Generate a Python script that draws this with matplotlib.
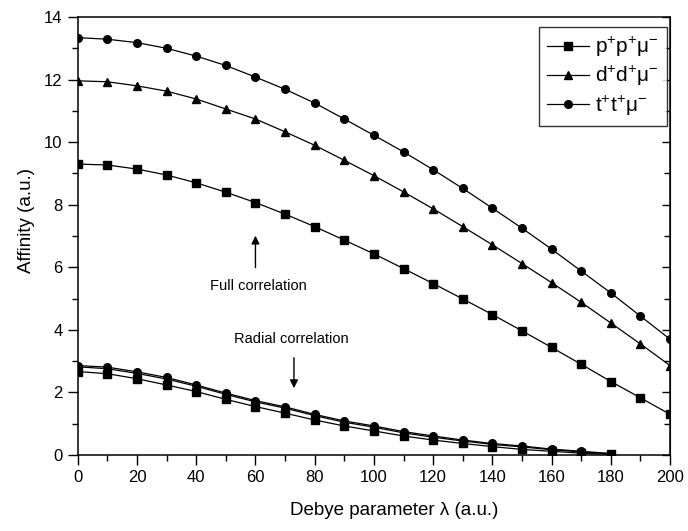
import numpy as np
import matplotlib
matplotlib.use("Agg")
from matplotlib import pyplot as plt
from matplotlib.ticker import MultipleLocator

plt.rcParams['font.family'] = ['Liberation Sans', 'DejaVu Sans']
plt.rcParams['mathtext.fontset'] = 'custom'
plt.rcParams['mathtext.rm'] = 'Liberation Sans'
plt.rcParams['mathtext.it'] = 'Liberation Sans'

# Debye parameter values
lam = np.arange(0, 201, 10)
lam_rad = np.arange(0, 181, 10)

# Full correlation
full_p = [9.30, 9.27, 9.14, 8.95, 8.70, 8.40, 8.07, 7.70, 7.30, 6.87, 6.43,
          5.96, 5.48, 4.99, 4.49, 3.97, 3.44, 2.90, 2.35, 1.83, 1.30]
full_d = [11.96, 11.93, 11.80, 11.63, 11.38, 11.06, 10.74, 10.33, 9.90, 9.42, 8.93,
          8.41, 7.87, 7.30, 6.72, 6.12, 5.51, 4.88, 4.22, 3.55, 2.86]
full_t = [13.34, 13.29, 13.18, 13.00, 12.75, 12.45, 12.08, 11.69, 11.25, 10.74, 10.22,
          9.69, 9.12, 8.52, 7.89, 7.25, 6.58, 5.88, 5.18, 4.44, 3.70]

# Radial correlation
rad_p = [2.67, 2.60, 2.44, 2.24, 2.03, 1.78, 1.55, 1.34, 1.12, 0.93, 0.77,
         0.61, 0.48, 0.37, 0.27, 0.18, 0.12, 0.06, 0.02]
rad_d = [2.82, 2.76, 2.61, 2.43, 2.20, 1.94, 1.70, 1.50, 1.26, 1.05, 0.89,
         0.71, 0.57, 0.45, 0.34, 0.26, 0.17, 0.10, 0.04]
rad_t = [2.86, 2.81, 2.66, 2.48, 2.24, 1.98, 1.74, 1.54, 1.30, 1.09, 0.93,
         0.75, 0.61, 0.48, 0.37, 0.29, 0.19, 0.12, 0.05]

labels = [r'p$^{+}$p$^{+}$μ$^{-}$', r'd$^{+}$d$^{+}$μ$^{-}$', r't$^{+}$t$^{+}$μ$^{-}$']
markers = ['s', '^', 'o']

fig = plt.figure(figsize=(6.88, 5.31), dpi=100)
ax = fig.add_axes([0.113, 0.143, 0.861, 0.825])

for full, rad, m, lab in zip([full_p, full_d, full_t], [rad_p, rad_d, rad_t], markers, labels):
    ax.plot(lam, full, '-', color='black', marker=m, markersize=5.5, linewidth=0.9, label=lab)
    ax.plot(lam_rad, rad, '-', color='black', marker=m, markersize=5.5, linewidth=0.9)

ax.set_xlim(0, 200)
ax.set_ylim(0, 14)
ax.xaxis.set_major_locator(MultipleLocator(20))
ax.xaxis.set_minor_locator(MultipleLocator(10))
ax.yaxis.set_major_locator(MultipleLocator(2))
ax.yaxis.set_minor_locator(MultipleLocator(1))
ax.tick_params(which='both', direction='out', labelsize=12, width=1, pad=4)
ax.tick_params(which='major', length=7)
ax.tick_params(which='minor', length=4)
for s in ax.spines.values():
    s.set_linewidth(1.1)

# mirrored inward ticks on the right side
ay = ax.secondary_yaxis('right')
ay.yaxis.set_major_locator(MultipleLocator(2))
ay.yaxis.set_minor_locator(MultipleLocator(1))
ay.tick_params(which='both', direction='in', labelright=False, width=1)
ay.tick_params(which='major', length=6)
ay.tick_params(which='minor', length=4)

ax.set_xlabel('Debye parameter λ (a.u.)', fontsize=13.5)
ax.xaxis.set_label_coords(0.535, -0.108)
ax.set_ylabel('Affinity (a.u.)', fontsize=13.5)
ax.yaxis.set_label_coords(-0.072, 0.535)

# annotations
ax.annotate('', xy=(60, 7.1), xytext=(60, 5.9),
            arrowprops=dict(arrowstyle='-|>', color='black', lw=1, mutation_scale=12))
ax.text(61, 5.4, 'Full correlation', fontsize=10.5, ha='center', va='center')
ax.annotate('', xy=(73, 2.05), xytext=(73, 3.2),
            arrowprops=dict(arrowstyle='-|>', color='black', lw=1, mutation_scale=12))
ax.text(72, 3.72, 'Radial correlation', fontsize=10.5, ha='center', va='center')

leg = ax.legend(loc='upper right', fontsize=15, handlelength=2.0, frameon=True,
                fancybox=False, edgecolor='black', bbox_to_anchor=(0.995, 0.978),
                borderaxespad=0, labelspacing=0.25, handletextpad=0.3, borderpad=0.4)
leg.get_frame().set_linewidth(1)

fig.savefig('out.png', dpi=100)
